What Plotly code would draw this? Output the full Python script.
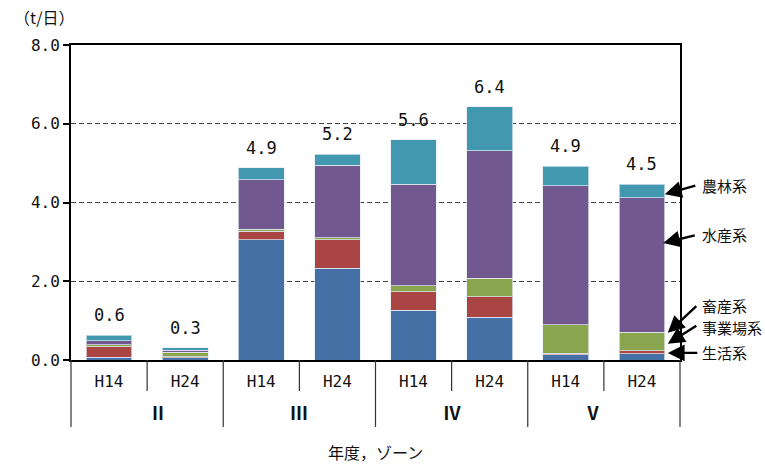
import plotly.graph_objects as go

# Zones and survey years (two-level category axis)
zones = ["Ⅱ", "Ⅲ", "Ⅳ", "Ⅴ"]
years = ["H14", "H24"]

# Load by source (t/日); order: Ⅱ-H14, Ⅱ-H24, Ⅲ-H14, Ⅲ-H24, Ⅳ-H14, Ⅳ-H24, Ⅴ-H14, Ⅴ-H24
seikatsu = [0.07, 0.06, 3.06, 2.33, 1.26, 1.08, 0.13, 0.16]   # 生活系
jigyoujou = [0.27, 0.02, 0.21, 0.73, 0.47, 0.53, 0.04, 0.07]  # 事業場系
chikusan = [0.05, 0.12, 0.05, 0.04, 0.15, 0.47, 0.73, 0.47]   # 畜産系
suisan = [0.10, 0.05, 1.26, 1.85, 2.58, 3.24, 3.52, 3.42]     # 水産系
norin = [0.14, 0.06, 0.30, 0.27, 1.13, 1.11, 0.50, 0.34]      # 農林系

series_names = ["生活系", "事業場系", "畜産系", "水産系", "農林系"]
series_values = [seikatsu, jigyoujou, chikusan, suisan, norin]
colors = ["#4470A5", "#A94543", "#89A54E", "#71588F", "#4198AF"]

y_ticks = [0, 2, 4, 6, 8]

JP = "Noto Sans CJK JP"
NUM = "DejaVu Sans Mono"

keys = [f"{z}-{y}" for z in zones for y in years]
inner_labels = [y for z in zones for y in years]
n_cat = len(keys)

fig = go.Figure()
for name, vals, col in zip(series_names, series_values, colors):
    fig.add_trace(go.Bar(
        x=keys, y=vals, name=name,
        marker=dict(color=col, line=dict(color="rgba(230,235,245,0.7)", width=1)),
        showlegend=False,
    ))

# Stack totals above each bar
totals = [sum(v[i] for v in series_values) for i in range(n_cat)]
annotations = []
for k, t in zip(keys, totals):
    annotations.append(dict(
        x=k, y=t, xref="x", yref="y", text=f"{t:.1f}", showarrow=False,
        yanchor="bottom", yshift=8, font=dict(family=NUM, size=17, color="#111"),
    ))

# Zone labels under the year labels
for j, z in enumerate(zones):
    annotations.append(dict(
        x=(2 * j + 1) / n_cat, y=-0.165, xref="paper", yref="paper", text=z,
        showarrow=False, yanchor="middle",
        font=dict(family=JP, size=18, color="#111", weight="bold"),
    ))

# Unit and axis caption
annotations.append(dict(
    x=-0.097, y=1.089, xref="paper", yref="paper", text="（t/日）", showarrow=False,
    xanchor="left", yanchor="middle", font=dict(family=JP, size=16, color="#111"),
))
annotations.append(dict(
    x=0.5, y=-0.292, xref="paper", yref="paper", text="年度，ゾーン", showarrow=False,
    yanchor="middle", font=dict(family=JP, size=16, color="#111"),
))

# Callouts pointing at the segments of the last bar
callouts = [
    # name, arrow tip (x index, y), tail offset (px), label y
    ("農林系", 7.30, 4.21, 32, -9, 4.44),
    ("水産系", 7.28, 2.97, 33, -8, 3.19),
    ("畜産系", 7.34, 0.69, 30, -28, 1.39),
    ("事業場系", 7.34, 0.41, 30, -19, 0.82),
    ("生活系", 7.34, 0.18, 31, 0, 0.19),
]
for name, tx, ty, ax, ay, ly in callouts:
    annotations.append(dict(
        x=tx, y=ty, xref="x", yref="y", text="", showarrow=True,
        ax=ax, ay=ay, arrowhead=2, arrowsize=1.4, arrowwidth=2.4,
        arrowcolor="#000", standoff=0, startstandoff=0,
    ))
    annotations.append(dict(
        x=1.033, y=ly, xref="paper", yref="y", text=name, showarrow=False,
        xanchor="left", yanchor="middle", font=dict(family=JP, size=15, color="#111"),
    ))

# Table-style separators below the category axis
shapes = []
for k in range(n_cat + 1):
    depth = -0.2127 if k % 2 == 0 else -0.0984
    shapes.append(dict(
        type="line", xref="paper", yref="paper", x0=k / n_cat, x1=k / n_cat,
        y0=0, y1=depth, line=dict(color="#333", width=1.2),
    ))

fig.update_layout(
    width=765, height=467,
    margin=dict(l=71, r=85, t=45, b=107),
    barmode="stack", bargap=0.4,
    plot_bgcolor="white", paper_bgcolor="white",
    annotations=annotations, shapes=shapes,
    font=dict(family=JP, color="#111"),
)
fig.update_xaxes(
    type="category", tickvals=keys, ticktext=inner_labels,
    ticks="", showline=True, linecolor="#000", linewidth=2, mirror=True,
    tickfont=dict(family=NUM, size=16, color="#111"), ticklabelstandoff=6,
    range=[-0.5, n_cat - 0.5], showgrid=False,
)
fig.update_yaxes(
    range=[0, 8], tickvals=y_ticks, ticktext=[f"{v:.1f}" for v in y_ticks],
    ticks="outside", ticklen=6, tickcolor="#000", tickwidth=1.5,
    showline=True, linecolor="#000", linewidth=2, mirror=True,
    showgrid=True, gridcolor="#444", griddash="5px,3px", gridwidth=1,
    zeroline=False, tickfont=dict(family=NUM, size=16, color="#111"),
)

fig.write_html("out.html")
